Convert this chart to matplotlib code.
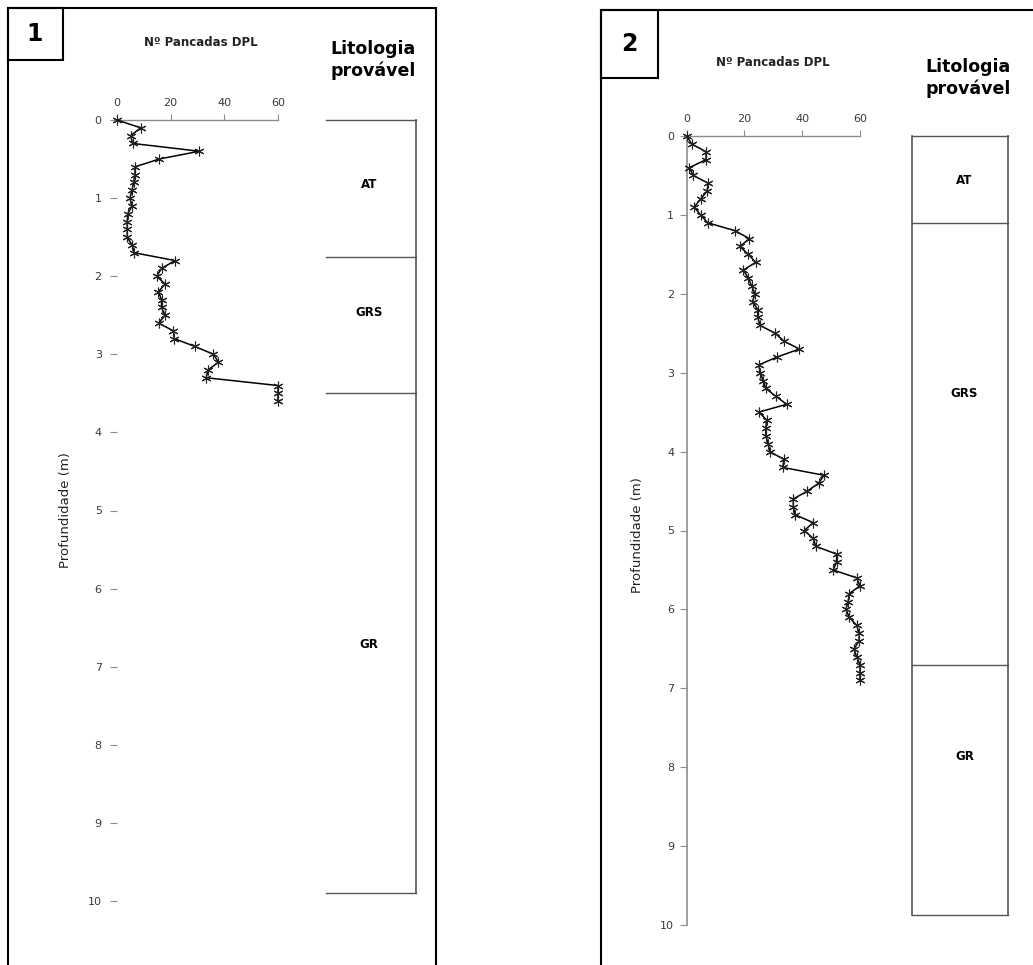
import matplotlib
matplotlib.use("Agg")
import matplotlib.pyplot as plt
from matplotlib.patches import Rectangle

W, H = 1033, 965

# ---------------- data ----------------
depth1 = [0.0, 0.1, 0.2, 0.3, 0.4, 0.5, 0.6, 0.7, 0.8, 0.9, 1.0, 1.1, 1.2, 1.3,
          1.4, 1.5, 1.6, 1.7, 1.8, 1.9, 2.0, 2.1, 2.2, 2.3, 2.4, 2.5, 2.6, 2.7,
          2.8, 2.9, 3.0, 3.1, 3.2, 3.3, 3.4, 3.5, 3.6]
blows1 = [0, 8.8, 5.1, 5.8, 30.7, 15.7, 6.7, 6.7, 6.2, 5.6, 4.8, 5.6, 4.0, 3.8,
          3.8, 3.8, 5.6, 6.5, 21.6, 16.6, 14.8, 17.9, 15.4, 16.6, 16.6, 17.9,
          15.5, 21.0, 21.4, 29.1, 35.9, 37.8, 34.0, 33.2, 60, 60, 60]

depth2 = [0.0, 0.1, 0.2, 0.3, 0.4, 0.5, 0.6, 0.7, 0.8, 0.9,
          1.0, 1.1, 1.2, 1.3, 1.4, 1.5, 1.6, 1.7, 1.8, 1.9,
          2.0, 2.1, 2.2, 2.3, 2.4, 2.5, 2.6, 2.7, 2.8, 2.9,
          3.0, 3.1, 3.2, 3.3, 3.4, 3.5, 3.6, 3.7, 3.8, 3.9,
          4.0, 4.1, 4.2, 4.3, 4.4, 4.5, 4.6, 4.7, 4.8, 4.9,
          5.0, 5.1, 5.2, 5.3, 5.4, 5.5, 5.6, 5.7, 5.8, 5.9,
          6.0, 6.1, 6.2, 6.3, 6.4, 6.5, 6.6, 6.7, 6.8, 6.9]
blows2 = [0, 1.7, 6.7, 6.7, 0.9, 2.3, 7.5, 7.0, 4.8, 2.6,
          4.8, 7.3, 16.7, 21.7, 18.4, 21.3, 23.9, 19.6, 21.3, 22.5,
          23.6, 22.8, 24.6, 24.6, 25.4, 30.6, 33.7, 39.0, 31.4, 25.0,
          25.4, 26.5, 27.4, 30.9, 34.6, 25.0, 27.7, 27.4, 27.4, 28.2,
          28.8, 33.7, 33.2, 47.5, 45.7, 41.8, 36.9, 36.9, 37.5, 43.8,
          40.7, 43.8, 44.7, 51.9, 51.9, 50.7, 58.8, 60, 56.3, 55.9,
          55.1, 56.3, 58.8, 59.7, 59.7, 57.9, 58.8, 60, 60, 60]

x_ticks = [0, 20, 40, 60]
y_ticks = [0, 1, 2, 3, 4, 5, 6, 7, 8, 9, 10]

lith1_bounds = [0.0, 1.75, 3.5, 9.9]
lith1_names = ["AT", "GRS", "GR"]
lith1_label_depth = [0.83, 2.47, 6.72]

lith2_bounds = [0.0, 1.1, 6.7, 9.87]
lith2_names = ["AT", "GRS", "GR"]
lith2_label_depth = [0.56, 3.26, 7.87]

title_txt = "Nº Pancadas DPL"
lith_title = "Litologia\nprovável"
ylabel_txt = "Profundidade (m)"

# ---------------- helpers ----------------
def fx(x):
    return x / W

def fy(y):
    return 1 - y / H

def add_ax(fig, left, right, top, bottom):
    return fig.add_axes([fx(left), fy(bottom), fx(right) - fx(left), fy(top) - fy(bottom)])

fig = plt.figure(figsize=(W / 100, H / 100), dpi=100)
fig.patch.set_facecolor("white")

GREY = "#8c8c8c"
TICKC = "#3a3a3a"
star = (6, 2, 0)


def data_axes(ax, depth, blows, show_spine):
    ax.plot(blows, depth, color="black", lw=1.1, marker=star, ms=7, mew=0.8,
            mec="#222222", clip_on=False, zorder=3)
    ax.set_xlim(0, 60)
    ax.set_ylim(10, 0)
    ax.set_xticks(x_ticks)
    ax.set_yticks(y_ticks)
    ax.xaxis.tick_top()
    for s in ["right", "bottom"]:
        ax.spines[s].set_visible(False)
    ax.spines["top"].set_color(GREY)
    ax.spines["top"].set_linewidth(1.0)
    ax.spines["left"].set_visible(show_spine)
    ax.spines["left"].set_color(GREY)
    ax.spines["left"].set_linewidth(1.2)
    ax.tick_params(axis="x", direction="out", length=4, width=0.8, color=GREY,
                   labelsize=8, labelcolor=TICKC, pad=5)
    ax.tick_params(axis="y", direction="out", length=5, width=0.8, color=GREY,
                   labelsize=8, labelcolor=TICKC, pad=4 if show_spine else 6)
    ax.set_facecolor("none")


# ---------------- panel 1 ----------------
ax1 = add_ax(fig, 117, 278, 120, 901)
data_axes(ax1, depth1, blows1, show_spine=False)

lx1 = add_ax(fig, 326, 416, 120, 901)
lx1.set_xlim(0, 1)
lx1.set_ylim(10, 0)
lx1.axis("off")
for b in lith1_bounds:
    lx1.plot([0, 1], [b, b], color="#555555", lw=1.0, clip_on=False)
lx1.plot([1, 1], [lith1_bounds[0], lith1_bounds[-1]], color="#555555", lw=1.2, clip_on=False)
for n, d in zip(lith1_names, lith1_label_depth):
    lx1.text(0.48, d, n, ha="center", va="center", fontsize=8.5, fontweight="bold")

# ---------------- panel 2 ----------------
ax2 = add_ax(fig, 686.7, 860, 136, 925)
data_axes(ax2, depth2, blows2, show_spine=True)

lx2 = add_ax(fig, 911.7, 1007.7, 136, 925)
lx2.set_xlim(0, 1)
lx2.set_ylim(10, 0)
lx2.axis("off")
for b in lith2_bounds:
    lx2.plot([0, 1], [b, b], color="#555555", lw=1.0, clip_on=False)
for xv in [0, 1]:
    lx2.plot([xv, xv], [lith2_bounds[0], lith2_bounds[-1]], color="#555555", lw=1.2, clip_on=False)
for n, d in zip(lith2_names, lith2_label_depth):
    lx2.text(0.55, d, n, ha="center", va="center", fontsize=8.5, fontweight="bold")

# ---------------- frames and texts ----------------
def frect(x0, y0, x1, y1, lw=1.5):
    fig.patches.append(Rectangle((fx(x0), fy(y1)), fx(x1) - fx(x0), fy(y0) - fy(y1),
                                 transform=fig.transFigure, fill=False,
                                 edgecolor="black", lw=lw, clip_on=False))

frect(8, 8, 436, 990)
frect(8, 8, 63, 60)
frect(601, 10, 1060, 990)
frect(601, 10, 658, 78)

fig.text(fx(35), fy(34), "1", ha="center", va="center", fontsize=17, fontweight="bold")
fig.text(fx(629), fy(44), "2", ha="center", va="center", fontsize=17, fontweight="bold")

fig.text(fx(201), fy(43), title_txt, ha="center", va="center", fontsize=8.5,
         fontweight="bold", color="#222222")
fig.text(fx(773), fy(62), title_txt, ha="center", va="center", fontsize=8.5,
         fontweight="bold", color="#222222")

fig.text(fx(373), fy(60), lith_title, ha="center", va="center", fontsize=12.5,
         fontweight="bold", linespacing=1.3)
fig.text(fx(968), fy(78), lith_title, ha="center", va="center", fontsize=12.5,
         fontweight="bold", linespacing=1.3)

fig.text(fx(66), fy(510), ylabel_txt, ha="center", va="center", rotation=90,
         fontsize=9.5, color="#222222")
fig.text(fx(637), fy(535), ylabel_txt, ha="center", va="center", rotation=90,
         fontsize=9.5, color="#222222")

fig.savefig("out.png", dpi=100, facecolor="white")
